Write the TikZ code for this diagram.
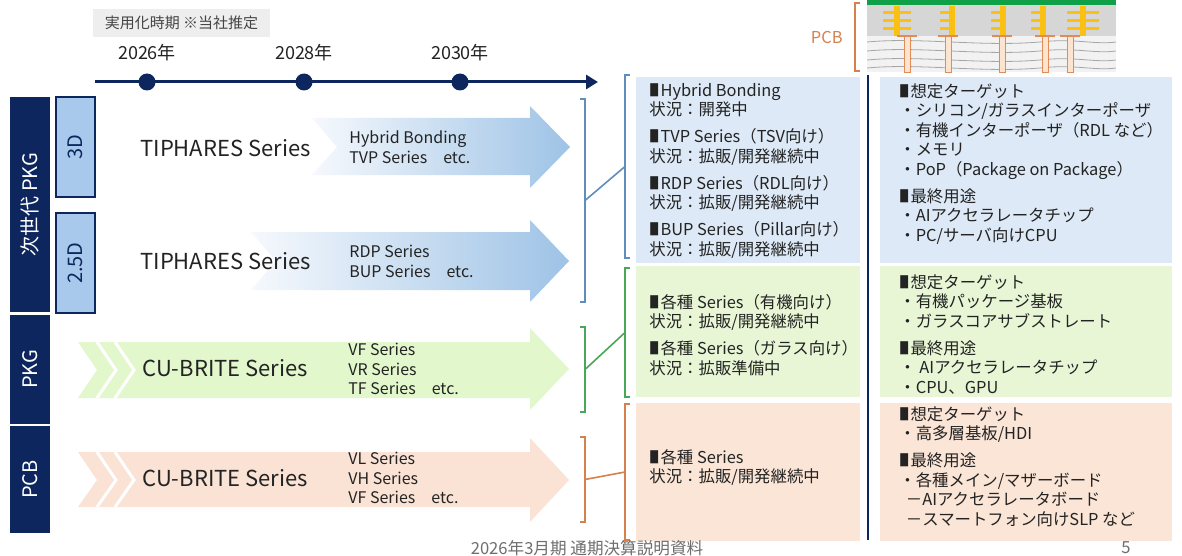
\documentclass[tikz,border=0pt]{standalone}
\usepackage{fontspec}
\setmainfont{Noto Sans CJK JP}
\usetikzlibrary{arrows.meta,positioning}

\definecolor{navy}{RGB}{14,38,94}
\definecolor{txt}{RGB}{35,35,35}
\definecolor{footgray}{RGB}{110,110,110}
\definecolor{tagbg}{RGB}{238,238,238}
\definecolor{tabblue}{RGB}{168,201,236}
\definecolor{boxblue}{RGB}{221,233,246}
\definecolor{boxgreen}{RGB}{232,246,214}
\definecolor{boxpeach}{RGB}{251,229,215}
\definecolor{arrowblueL}{RGB}{246,249,253}
\definecolor{arrowblueR}{RGB}{158,195,230}
\definecolor{arrowgreen}{RGB}{226,248,204}
\definecolor{arrowpeach}{RGB}{250,227,213}
\definecolor{brblue}{RGB}{96,140,190}
\definecolor{brgreen}{RGB}{72,168,88}
\definecolor{brorange}{RGB}{214,128,78}
\definecolor{pcbgreen}{RGB}{16,160,72}
\definecolor{pcbgray}{RGB}{214,214,214}
\definecolor{pcbcore}{RGB}{242,242,242}
\definecolor{gold}{RGB}{250,192,20}
\definecolor{copper}{RGB}{224,140,90}
\definecolor{copperfill}{RGB}{252,228,206}

\newcommand\sq{\scalebox{0.6}[1]{■}\hspace{0.08em}}

\begin{document}
\begin{tikzpicture}[
  x=0.5pt, y=-0.5pt,
  every node/.style={text=txt},
  font=\fontsize{8.2}{9.75}\selectfont,
  tag/.style={fill=tagbg, minimum width=88.5pt, minimum height=14pt, inner sep=0,
    text=txt!85, font=\fontsize{7.5}{9}\selectfont},
  yearlbl/.style={inner sep=0, font=\fontsize{9}{11}\selectfont},
  dot/.style={circle, fill=navy, minimum size=8.5pt, inner sep=0},
  timeline/.style={navy, line width=1.5pt, -{Triangle[length=6pt,width=7pt]}},
  navybar/.style={fill=navy, text=white, rotate=90, minimum height=20pt, inner sep=0,
    font=\fontsize{10}{12}\selectfont},
  tab/.style={fill=tabblue, draw=navy, line width=1pt, rotate=90, minimum width=50pt,
    minimum height=19.5pt, inner sep=0, text=navy, font=\fontsize{10}{12}\selectfont},
  series/.style={anchor=west, inner sep=0, font=\fontsize{11}{14}\selectfont},
  sub/.style={anchor=west, align=left, inner sep=0, font=\fontsize{8}{9.75}\selectfont},
  grp/.style={minimum width=2.5pt, inner sep=0, outer sep=0},
  brk/.style={line width=0.8pt},
  panel/.style={anchor=north west, inner sep=0, outer sep=0},
  info/.style={anchor=north west, align=left, inner sep=0},
  footer/.style={inner sep=0, text=footgray, font=\fontsize{8.3}{10}\selectfont},
  ]
  \useasboundingbox (0,0) rectangle (1182,556);
  \fill[white] (0,0) rectangle (1182,556);

  \node[tag] (when) at (181.5,23) {実用化時期 ※当社推定};
  \coordinate (tlA) at (95,82);
  \coordinate (tlB) at (598,82);
  \draw[timeline] (tlA) -- (tlB);
  \foreach \x/\yr in {147/2026,304/2028,460/2030} {
    \node[dot] (d\yr) at (\x,82) {};
    \node[yearlbl] (y\yr) at (\x,53) {{\yr}年};
  }

  \node[navybar, minimum width=107.5pt] (gen) at (30,204.5) {次世代 PKG};
  \node[navybar, minimum width=54.5pt] (pkg) at (30,369.5) {PKG};
  \node[navybar, minimum width=53.5pt] (pcb) at (30,479.5) {PCB};
  \node[tab] (t3d) at (75.5,147) {3D};
  \node[tab] (t25d) at (75.5,263) {2.5D};

  \shade[left color=arrowblueL, right color=arrowblueR]
    (312,118) -- (530,118) -- (530,106) -- (570,147) -- (530,188) -- (530,175)
    -- (312,175) -- (337,147) -- cycle;
  \shade[left color=arrowblueL, right color=arrowblueR]
    (251,232) -- (530,232) -- (530,220) -- (569,261) -- (530,302) -- (530,290)
    -- (251,290) -- (276,261) -- cycle;
  \fill[arrowgreen]
    (78,342) -- (530,342) -- (530,328) -- (569,369) -- (530,410) -- (530,398)
    -- (78,398) -- (97,370) -- cycle;
  \fill[arrowpeach]
    (78,452) -- (530,452) -- (530,438) -- (569,480) -- (530,522) -- (530,507)
    -- (78,507) -- (97,480) -- cycle;
  \foreach \dx in {19,37} {
    \draw[white, line width=1.5pt] (78+\dx,342) -- (97+\dx,370) -- (78+\dx,398);
    \draw[white, line width=1.5pt] (78+\dx,452) -- (97+\dx,480) -- (78+\dx,507);
  }

  \node[series] (tip3d) at (140,148) {TIPHARES Series};
  \node[sub] (tip3dsub) at (349,147) {Hybrid Bonding\\TVP Series\quad etc.};
  \node[series] (tip25d) at (140,261) {TIPHARES Series};
  \node[sub] (tip25dsub) at (349,261.5) {RDP Series\\BUP Series\quad etc.};
  \node[series] (cupkg) at (142,368) {CU-BRITE Series};
  \node[sub] (cupkgsub) at (348,369) {VF Series\\VR Series\\TF Series\quad etc.};
  \node[series] (cupcb) at (142,478) {CU-BRITE Series};
  \node[sub] (cupcbsub) at (348,478) {VL Series\\VH Series\\VF Series\quad etc.};

  \node[grp, minimum height=101.5pt] (r3d) at (582.5,200.5) {};
  \node[grp, minimum height=42.5pt] (rpkg) at (582.5,369.5) {};
  \node[grp, minimum height=42.5pt] (rpcb) at (582.5,479.5) {};
  \node[grp, minimum height=91.5pt] (lnext) at (627.5,166.5) {};
  \node[grp, minimum height=64.5pt] (lpkg) at (627.5,332.5) {};
  \node[grp, minimum height=68pt] (lpcb) at (627.5,472) {};
  \foreach \a/\b/\c in {r3d/lnext/brblue, rpkg/lpkg/brgreen, rpcb/lpcb/brorange} {
    \draw[brk, \c] (\a.north west) -- (\a.north east) -- (\a.south east) -- (\a.south west);
    \draw[brk, \c] (\b.north east) -- (\b.north west) -- (\b.south west) -- (\b.south east);
    \draw[brk, \c] (\a.east) -- (\b.west);
  }

  \node[panel, fill=boxblue, minimum width=112pt, minimum height=93pt] (midA) at (636,77) {};
  \node[panel, fill=boxblue, minimum width=146pt, minimum height=93pt] (useA) at (880,77) {};
  \node[panel, fill=boxgreen, minimum width=112pt, minimum height=65.5pt] (midB) at (636,266) {};
  \node[panel, fill=boxgreen, minimum width=146pt, minimum height=65.5pt] (useB) at (880,266) {};
  \node[panel, fill=boxpeach, minimum width=112pt, minimum height=69pt] (midC) at (636,403) {};
  \node[panel, fill=boxpeach, minimum width=146pt, minimum height=69pt] (useC) at (880,403) {};
  \coordinate (divT) at (868,75);
  \coordinate (divB) at (868,540);
  \draw[navy, line width=1pt] (divT) -- (divB);

  \node[info] (statA) at (649,83) {\sq Hybrid Bonding\\状況：開発中\\[3.75pt]
    \sq TVP Series（TSV向け）\\状況：拡販/開発継続中\\[3.75pt]
    \sq RDP Series（RDL向け）\\状況：拡販/開発継続中\\[3.75pt]
    \sq BUP Series（Pillar向け）\\状況：拡販/開発継続中};
  \node[info] (tgtA) at (899,83) {\sq 想定ターゲット\\・シリコン/ガラスインターポーザ\\
    ・有機インターポーザ（RDL など）\\・メモリ\\・PoP（Package on Package）\\[3.75pt]
    \sq 最終用途\\・AIアクセラレータチップ\\・PC/サーバ向けCPU};
  \node[info] (statB) at (649,294) {\sq 各種 Series（有機向け）\\状況：拡販/開発継続中\\[3.75pt]
    \sq 各種 Series（ガラス向け）\\状況：拡販準備中};
  \node[info] (tgtB) at (899,274) {\sq 想定ターゲット\\・有機パッケージ基板\\
    ・ガラスコアサブストレート\\[3.75pt]\sq 最終用途\\・ AIアクセラレータチップ\\・CPU、GPU};
  \node[info] (statC) at (649,449) {\sq 各種 Series\\状況：拡販/開発継続中};
  \node[info] (tgtC) at (899,406) {\sq 想定ターゲット\\・高多層基板/HDI\\[3.75pt]\sq 最終用途\\
    ・各種メイン/マザーボード\\\hspace*{0.4em}－AIアクセラレータボード\\
    \hspace*{0.4em}－スマートフォン向けSLP など};

  \fill[pcbgreen] (867,0) rectangle (1116,5);
  \fill[pcbgray] (867,5) rectangle (1116,36);
  \fill[pcbcore] (867,36) rectangle (1116,72);
  \foreach \yy in {42,51,60,68}
    \draw[gray!70, line width=0.4pt] (867,\yy) .. controls (920,\yy-5) and (980,\yy+5) .. (1040,\yy)
      .. controls (1075,\yy-4) and (1095,\yy+3) .. (1116,\yy);
  \foreach \x/\lw/\rw in {897/14/14, 952/12/3, 1003/12/3, 1043/12/3, 1083/16/16} {
    \fill[gold] (\x-3,6) rectangle (\x+3,36);
    \foreach \yy in {11,19,27}
      \fill[gold] (\x-\lw,\yy) rectangle (\x+\rw,\yy+3);
  }
  \foreach \x in {907,948,1002,1045,1070} {
    \filldraw[fill=copperfill, draw=copper, line width=0.4pt] (\x-3,36) rectangle (\x+3,72);
    \draw[copper, line width=1pt] (\x-10,36) -- (\x+10,36);
  }
  \node[grp, minimum height=34pt] (pcbbr) at (857.5,37) {};
  \draw[brk, brorange] (pcbbr.north east) -- (pcbbr.north west) -- (pcbbr.south west) -- (pcbbr.south east);
  \node[inner sep=0, text=brorange, left=6pt of pcbbr] (pcblbl) {PCB};

  \node[footer] (foot) at (587,548) {2026年3月期 通期決算説明資料};
  \node[footer] (pageno) at (1126,548) {5};
\end{tikzpicture}
\end{document}
